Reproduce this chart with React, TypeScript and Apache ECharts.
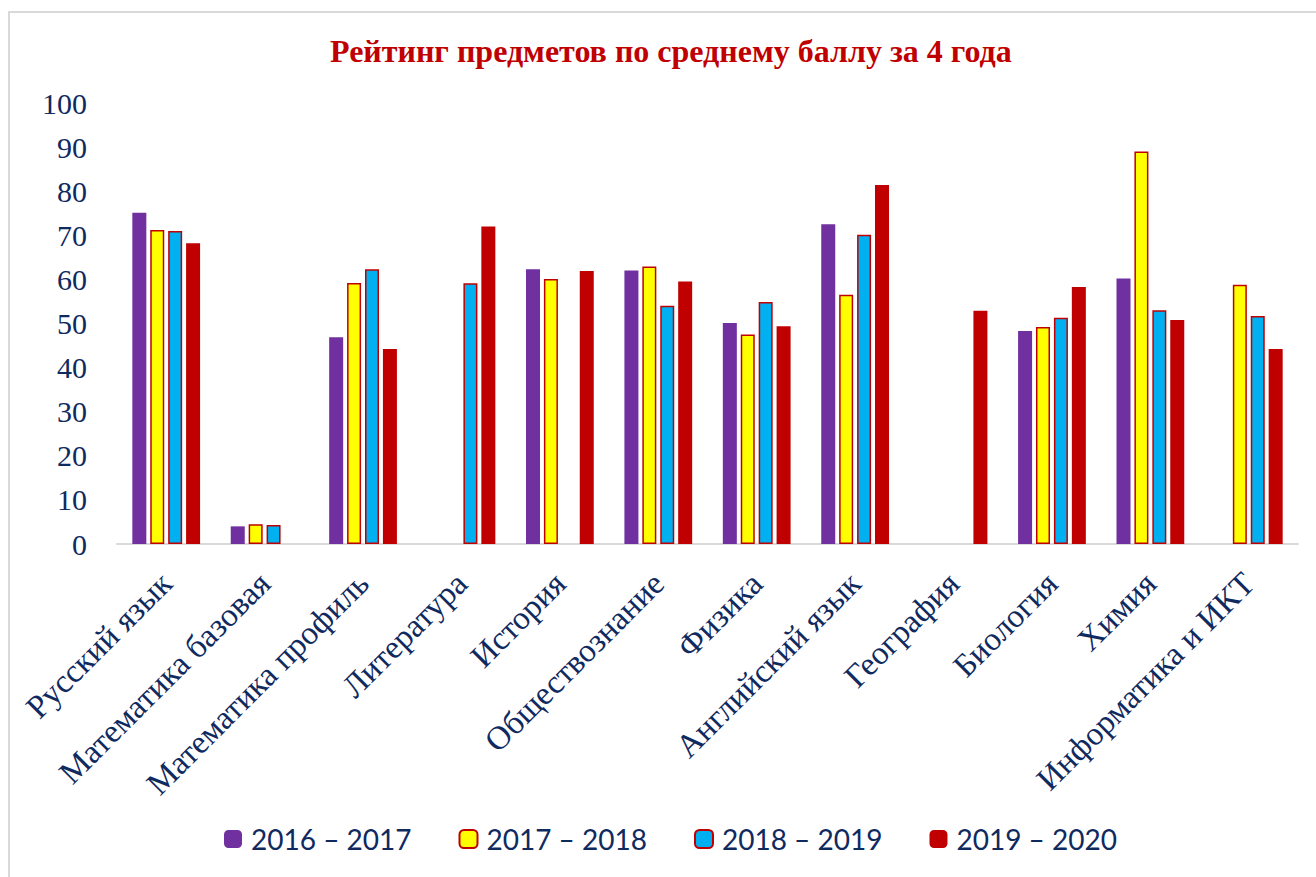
import React, { useEffect, useRef } from "react";
import * as echarts from "echarts";

const title = "Рейтинг предметов по среднему баллу за 4 года";

const categories = [
  "Русский язык",
  "Математика базовая",
  "Математика профиль",
  "Литература",
  "История",
  "Обществознание",
  "Физика",
  "Английский язык",
  "География",
  "Биология",
  "Химия",
  "Информатика и ИКТ",
];

const seriesNames = ["2016 – 2017", "2017 – 2018", "2018 – 2019", "2019 – 2020"];

const values2016 = [75.1, 4.0, 46.9, null, 62.3, 62.0, 50.1, 72.5, null, 48.3, 60.2, null];
const values2017 = [71.2, 4.5, 59.2, null, 60.1, 62.9, 47.5, 56.5, null, 49.2, 89.0, 58.8];
const values2018 = [71.0, 4.3, 62.3, 59.1, null, 54.0, 54.9, 70.1, null, 51.3, 53.0, 51.7];
const values2019 = [68.2, null, 44.2, 72.0, 61.9, 59.5, 49.4, 81.4, 52.9, 58.3, 50.8, 44.2];

const yTicks = { min: 0, max: 100, interval: 10 };

export default function App() {
  const ref = useRef<HTMLDivElement>(null);

  useEffect(() => {
    if (!ref.current) return;
    const chart = echarts.init(ref.current, undefined, { renderer: "svg" });
    const navy = "#0F2A5F";
    const red = "#C00000";
    const mk = (name: string, data: (number | null)[], color: string, bordered: boolean) => ({
      name,
      type: "bar",
      data: data.map((v) => (v === null ? "-" : v)),
      barWidth: 14,
      barGap: "28%",
      itemStyle: bordered
        ? { color, borderColor: red, borderWidth: 1.5 }
        : { color },
    });
    chart.setOption({
      animation: false,
      backgroundColor: "#ffffff",
      title: {
        text: title,
        left: 325,
        top: 30,
        textStyle: {
          fontFamily: "Liberation Serif",
          fontWeight: "bold",
          fontSize: 32,
          color: red,
        },
      },
      graphic: [
        {
          type: "rect",
          shape: { x: 9, y: 12, width: 1400, height: 1000 },
          style: { fill: "none", stroke: "#D9D9D9", lineWidth: 2 },
          silent: true,
        },
      ],
      legend: {
        top: 820,
        left: 219,
        itemWidth: 18,
        itemHeight: 18,
        itemGap: 47,
        textStyle: { fontFamily: "Lato", fontSize: 28, color: navy, padding: [0, 0, 0, 4] },
        data: seriesNames,
      },
      grid: { left: 117, right: 18, top: 103, bottom: 333, containLabel: false },
      xAxis: {
        type: "category",
        data: categories,
        axisLine: { show: true, lineStyle: { color: "#D9D9D9", width: 2 } },
        axisTick: { show: false },
        axisLabel: {
          rotate: 45,
          interval: 0,
          margin: 34,
          fontFamily: "Liberation Serif",
          fontSize: 33,
          color: navy,
        },
      },
      yAxis: {
        type: "value",
        min: yTicks.min,
        max: yTicks.max,
        interval: yTicks.interval,
        axisLine: { show: false },
        axisTick: { show: false },
        splitLine: { show: false },
        axisLabel: {
          margin: 30,
          fontFamily: "Liberation Serif",
          fontSize: 30,
          color: navy,
        },
      },
      series: [
        mk(seriesNames[0], values2016, "#7030A0", false),
        mk(seriesNames[1], values2017, "#FFFF00", true),
        mk(seriesNames[2], values2018, "#00B0F0", true),
        mk(seriesNames[3], values2019, red, false),
      ],
    });
    return () => chart.dispose();
  }, []);

  return (
    <div style={{ position: "fixed", left: 0, top: 0, width: 1316, height: 877, background: "#fff" }}>
      <div ref={ref} style={{ width: 1316, height: 877 }} />
    </div>
  );
}
